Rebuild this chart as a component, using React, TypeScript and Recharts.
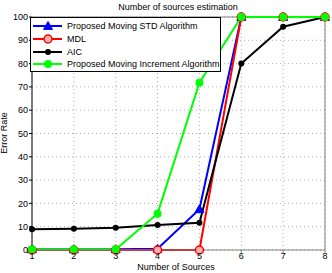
import { LineChart, Line, XAxis, YAxis, CartesianGrid, Legend } from "recharts";

const sources = [1, 2, 3, 4, 5, 6, 7, 8];
const stdAlgo = [0.3, 0.3, 0.3, 0.5, 17.5, 100, 100, 100];
const mdl = [0, 0, 0, 0, 0, 100, 100, 100];
const aic = [8.9, 9.1, 9.6, 10.7, 11.7, 80, 95.8, 100];
const incAlgo = [0.3, 0.3, 0.3, 15.6, 71.8, 100, 100, 100];
const yTicks = [0, 10, 20, 30, 40, 50, 60, 70, 80, 90, 100];

const data = sources.map((s, i) => ({
  n: s,
  std: stdAlgo[i],
  mdl: mdl[i],
  aic: aic[i],
  inc: incAlgo[i],
}));

const FONT = "'Liberation Sans', Arial, sans-serif";

function Triangle(props: any) {
  const { cx, cy, fill, r = 4.5 } = props;
  if (cx == null || cy == null) return null;
  return (
    <polygon
      points={`${cx},${cy - r} ${cx - r},${cy + r * 0.75} ${cx + r},${cy + r * 0.75}`}
      fill={fill}
      stroke={fill}
      strokeWidth={1}
    />
  );
}

const series = [
  { key: "std", name: "Proposed Moving STD Algorithm", color: "#0000ff", marker: "tri" },
  { key: "mdl", name: "MDL", color: "#ff0000", marker: "open" },
  { key: "aic", name: "AIC", color: "#000000", marker: "small" },
  { key: "inc", name: "Proposed Moving Increment Algorithm", color: "#00ff00", marker: "big" },
];

function Marker({ type, color, cx, cy }: { type: string; color: string; cx: number; cy: number }) {
  if (type === "tri") return <Triangle cx={cx} cy={cy} fill={color} />;
  if (type === "open") return <circle cx={cx} cy={cy} r={4} fill="#ffb0b0" stroke={color} strokeWidth={1.5} />;
  if (type === "small") return <circle cx={cx} cy={cy} r={3} fill={color} />;
  return <circle cx={cx} cy={cy} r={4} fill={color} />;
}

function LegendBox() {
  return (
    <div
      style={{
        border: "1px solid #000",
        background: "#fff",
        width: 191,
        height: 55,
        fontFamily: FONT,
        fontSize: 9,
        lineHeight: "12px",
        color: "#000",
        boxSizing: "border-box",
        paddingTop: 2,
      }}
    >
      {series.map((s) => (
        <div key={s.key} style={{ display: "flex", alignItems: "center", height: 12.7 }}>
          <svg width={34} height={12} style={{ display: "block" }}>
            <line x1={2} y1={6} x2={31} y2={6} stroke={s.color} strokeWidth={2} />
            <Marker type={s.marker} color={s.color} cx={17} cy={6} />
          </svg>
          <span style={{ marginLeft: 2, whiteSpace: "nowrap" }}>{s.name}</span>
        </div>
      ))}
    </div>
  );
}

export default function App() {
  return (
    <div style={{ position: "absolute", left: 0, top: 0, width: 332, height: 273, background: "#fff" }}>
      <LineChart width={332} height={273} data={data} margin={{ top: 17, right: 7, bottom: 0, left: 0 }}>
        <CartesianGrid stroke="#b0b0b0" strokeDasharray="1 3" />
        <XAxis
          dataKey="n"
          type="number"
          domain={[1, 8]}
          ticks={sources}
          height={23}
          stroke="#808080"
          tickSize={3}
          tick={{ fontFamily: FONT, fontSize: 9, fill: "#000" }}
          tickMargin={0}
        />
        <YAxis
          type="number"
          domain={[0, 100]}
          ticks={yTicks}
          width={32}
          stroke="#000"
          tickSize={3}
          tickMargin={1}
          tick={{ fontFamily: FONT, fontSize: 9, fill: "#000" }}
        />
        <Legend
          layout="vertical"
          align="center"
          verticalAlign="middle"
          wrapperStyle={{ position: "absolute", left: 30, top: 17, width: 191 }}
          content={() => <LegendBox />}
        />
        {series.map((s) => (
          <Line
            key={s.key}
            dataKey={s.key}
            name={s.name}
            stroke={s.color}
            strokeWidth={2}
            type="linear"
            isAnimationActive={false}
            dot={(p: any) => <Marker key={`${s.key}-${p.index}`} type={s.marker} color={s.color} cx={p.cx} cy={p.cy} />}
            activeDot={false}
          />
        ))}
        <line x1={32} y1={17} x2={325} y2={17} stroke="#808080" strokeWidth={1} />
        <line x1={325} y1={17} x2={325} y2={250} stroke="#808080" strokeWidth={1} />
        <text x={178} y={10} textAnchor="middle" fontFamily={FONT} fontSize={9} fill="#000">
          Number of sources estimation
        </text>
        <text x={176} y={270} textAnchor="middle" fontFamily={FONT} fontSize={9} fill="#000">
          Number of Sources
        </text>
        <text x={7} y={133} textAnchor="middle" fontFamily={FONT} fontSize={9} fill="#000" transform="rotate(-90 7 133)">
          Error Rate
        </text>
      </LineChart>
    </div>
  );
}
